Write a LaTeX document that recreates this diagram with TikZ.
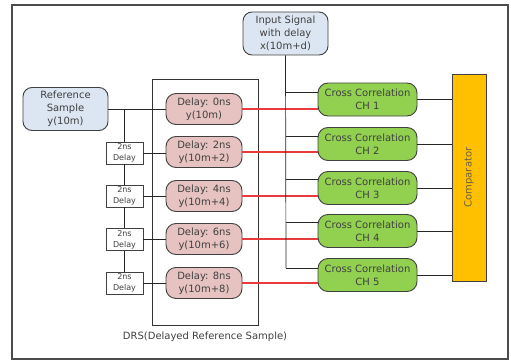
\documentclass[tikz,border=0pt]{standalone}
\usepackage{fontspec}
\setmainfont{DejaVu Sans}
\definecolor{bluefill}{HTML}{DCE6F2}
\definecolor{pinkfill}{HTML}{E6C3C0}
\definecolor{greenfill}{HTML}{92D050}
\definecolor{orangefill}{HTML}{FFC000}
\definecolor{boxline}{HTML}{404040}
\definecolor{txt}{HTML}{404040}
\definecolor{redline}{HTML}{E83C3C}
\tikzset{
  box/.style={draw=boxline, line width=0.9pt, text=txt, align=center, inner sep=0pt,
    font=\fontsize{10}{13}\selectfont},
  bluebox/.style={box, fill=bluefill, rounded corners=9pt, minimum width=85pt, minimum height=43pt},
  pinkbox/.style={box, fill=pinkfill, rounded corners=10pt, minimum width=76pt, minimum height=31pt},
  ccbox/.style={box, fill=greenfill, rounded corners=10pt, minimum width=99pt, minimum height=33pt},
  dlybox/.style={draw=boxline, line width=0.7pt, fill=white, text=txt, align=center, inner sep=0pt,
    minimum width=37pt, minimum height=22pt, font=\fontsize{8}{11}\selectfont},
  conn/.style={draw=black!85, line width=0.7pt},
  rconn/.style={draw=redline, line width=1.1pt},
}
\begin{document}
\begin{tikzpicture}[x=1pt,y=-1pt]
\useasboundingbox (0,0) rectangle (511,361);
% outer frame
\draw[draw=black!70, line width=1.2pt] (12,5) rectangle (508,359);
% DRS frame
\draw[draw=black!80, line width=0.8pt] (152,79) rectangle (258,325);
\node[text=txt, font=\fontsize{10}{12}\selectfont] (drs) at (205,337) {DRS(Delayed Reference Sample)};

% input / reference
\node[bluebox] (ref) at (65.5,109) {Reference\\Sample\\y(10m)};
\node[bluebox] (in) at (285.5,33.5) {Input Signal\\with delay\\x(10m+d)};

% delay (pink) boxes
\node[pinkbox] (d0) at (204,109) {Delay: 0ns\\y(10m)};
\node[pinkbox] (d1) at (204,152) {Delay: 2ns\\y(10m+2)};
\node[pinkbox] (d2) at (204,196) {Delay: 4ns\\y(10m+4)};
\node[pinkbox] (d3) at (204,239) {Delay: 6ns\\y(10m+6)};
\node[pinkbox] (d4) at (204,283) {Delay: 8ns\\y(10m+8)};

% 2ns delay boxes
\node[dlybox] (t1) at (124.5,153) {2ns\\Delay};
\node[dlybox] (t2) at (124.5,196) {2ns\\Delay};
\node[dlybox] (t3) at (124.5,239.5) {2ns\\Delay};
\node[dlybox] (t4) at (124.5,283) {2ns\\Delay};

% cross correlation boxes
\node[ccbox] (c1) at (367.5,99.5) {Cross Correlation\\CH 1};
\node[ccbox] (c2) at (367.5,144) {Cross Correlation\\CH 2};
\node[ccbox] (c3) at (367.5,188) {Cross Correlation\\CH 3};
\node[ccbox] (c4) at (367.5,231) {Cross Correlation\\CH 4};
\node[ccbox] (c5) at (367.5,275) {Cross Correlation\\CH 5};

% comparator
\node[draw=boxline, line width=0.9pt, fill=orangefill, minimum width=34pt, minimum height=207pt, inner sep=0pt] (cmp) at (469,177.5) {};
\node[rotate=90, text={rgb,255:red,110;green,95;blue,70}, font=\fontsize{10}{12}\selectfont] (cmptxt) at (cmp.center) {Comparator};

% reference path
\coordinate (j0) at (124.5,109);
\draw[conn] (ref.east |- j0) -- (d0.west |- j0);
\draw[conn] (j0) -- (t1.north);
\draw[conn] (t1.south) -- (t2.north);
\draw[conn] (t2.south) -- (t3.north);
\draw[conn] (t3.south) -- (t4.north);
\draw[conn] (t1.east) -- (t1.east -| d1.west);
\draw[conn] (t2.east) -- (t2.east -| d2.west);
\draw[conn] (t3.east) -- (t3.east -| d3.west);
\draw[conn] (t4.east) -- (t4.east -| d4.west);

% red lines
\draw[rconn] (d0.east) -- (d0.east -| c1.west);
\draw[rconn] (d1.east) -- (d1.east -| c2.west);
\draw[rconn] (d2.east) -- (d2.east -| c3.west);
\draw[rconn] (d3.east) -- (d3.east -| c4.west);
\draw[rconn] (d4.east) -- (d4.east -| c5.west);

% input signal bus
\coordinate (b1) at (286,92);
\coordinate (b2) at (286,136);
\coordinate (b3) at (286,179);
\coordinate (b4) at (286,222);
\coordinate (b5) at (286,268);
\draw[conn] (in.south) -- (b5);
\draw[conn] (b1) -- (b1 -| c1.west);
\draw[conn] (b2) -- (b2 -| c2.west);
\draw[conn] (b3) -- (b3 -| c3.west);
\draw[conn] (b4) -- (b4 -| c4.west);
\draw[conn] (b5) -- (b5 -| c5.west);

% to comparator
\draw[conn] (c1.east) -- (c1.east -| cmp.west);
\draw[conn] (c2.east) -- (c2.east -| cmp.west);
\draw[conn] (c3.east) -- (c3.east -| cmp.west);
\draw[conn] (c4.east) -- (c4.east -| cmp.west);
\draw[conn] (c5.east) -- (c5.east -| cmp.west);
\end{tikzpicture}
\end{document}
